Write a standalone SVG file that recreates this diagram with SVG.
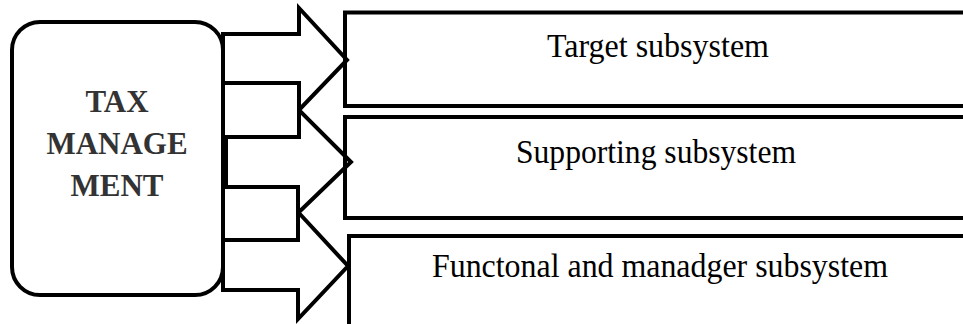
<svg xmlns="http://www.w3.org/2000/svg" width="963" height="324" viewBox="0 0 963 324">
<style>
.shape{fill:none;stroke:#000;stroke-width:4;stroke-linejoin:miter;stroke-miterlimit:10}
.node{fill:#fff;stroke:#000;stroke-width:4}
.arrow{fill:#fff;stroke:#000;stroke-width:4;stroke-linejoin:miter;stroke-miterlimit:10}
.main{font-family:"Liberation Serif","Times New Roman",serif;font-weight:bold;font-size:31px;fill:#333;text-anchor:middle}
.lbl{font-family:"Liberation Serif","Times New Roman",serif;font-size:33.5px;fill:#000;text-anchor:middle}
</style>
<rect width="963" height="324" fill="#fff"/>
<g id="tax-management">
<rect class="node" x="12" y="22" width="211" height="273" rx="28" ry="28"/>
<text class="main" x="117" y="112">TAX</text>
<text class="main" x="117" y="154">MANAGE</text>
<text class="main" x="117" y="196">MENT</text>
</g>
<g id="connectors">
<polygon class="arrow" points="223,34 299,34 299,8 347,60 299,110 299,83 223,83"/>
<polygon class="arrow" points="226,137 299,137 299,110 351,162 298,213 298,187 226,187"/>
<polygon class="arrow" points="223,240 298,240 298,212 348,266 298,319 298,290 223,290"/>
</g>
<g id="target-subsystem">
<rect class="shape" x="345" y="12.5" width="640" height="93.5"/>
<text class="lbl" x="658" y="57" textLength="222" lengthAdjust="spacingAndGlyphs">Target subsystem</text>
</g>
<g id="supporting-subsystem">
<rect class="shape" x="345" y="117" width="640" height="101"/>
<text class="lbl" x="656" y="163" textLength="280" lengthAdjust="spacingAndGlyphs">Supporting subsystem</text>
</g>
<g id="functional-manager-subsystem">
<rect class="shape" x="349" y="236" width="640" height="110"/>
<text class="lbl" x="660" y="277" textLength="456" lengthAdjust="spacingAndGlyphs">Functonal and manadger subsystem</text>
</g>
</svg>
